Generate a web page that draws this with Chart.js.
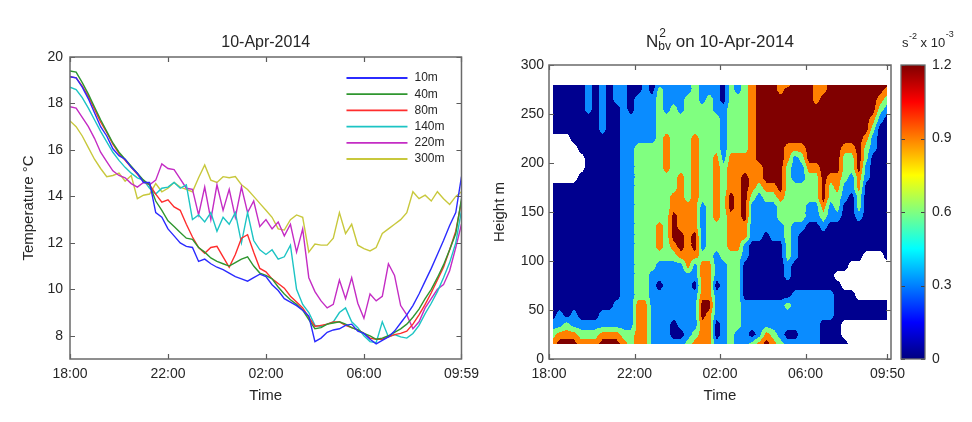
<!DOCTYPE html>
<html>
<head>
<meta charset="utf-8">
<script src="https://cdn.jsdelivr.net/npm/chart.js@4.4.1/dist/chart.umd.min.js"></script>
<style>
  html, body { margin: 0; padding: 0; background: #fff; }
  #wrap { position: relative; width: 972px; height: 422px; }
  canvas { position: absolute; top: 0; }
  #tempChart { left: 0; }
  #n2Chart { left: 486px; }
</style>
</head>
<body>
<div id="wrap">
  <canvas id="tempChart" width="486" height="422"></canvas>
  <canvas id="n2Chart" width="486" height="422"></canvas>
</div>
<script>
// ---------- left panel : temperature at six depths ----------
const tempTimes = [
  '18:00','18:15','18:30','18:45','19:00','19:15','19:30','19:45',
  '20:00','20:15','20:30','20:45','21:00','21:15','21:30','21:45',
  '22:00','22:15','22:30','22:45','23:00','23:15','23:30','23:45',
  '00:00','00:15','00:30','00:45','01:00','01:15','01:30','01:45',
  '02:00','02:15','02:30','02:45','03:00','03:15','03:30','03:45',
  '04:00','04:15','04:30','04:45','05:00','05:15','05:30','05:45',
  '06:00','06:15','06:30','06:45','07:00','07:15','07:30','07:45',
  '08:00','08:15','08:30','08:45','09:00','09:15','09:30','09:45','09:59'
];
const depthLabels = ['10m', '40m', '80m', '140m', '220m', '300m'];
const temp10m = [19.15,19.1,18.7,18.2,17.6,17.0,16.6,16.05,15.75,15.6,
  15.25,15.0,14.6,14.6,13.3,13.1,12.6,12.3,12.0,11.85,
  11.8,11.2,11.3,11.1,10.95,10.85,10.7,10.55,10.45,10.35,
  10.5,10.65,10.55,10.2,9.95,9.6,9.45,9.3,9.1,8.85,
  7.75,7.9,8.15,8.25,8.3,8.45,8.5,8.2,8.1,7.85,
  7.65,7.8,7.95,8.2,8.55,8.9,9.3,9.8,10.35,10.9,
  11.5,12.1,12.75,13.3,14.85];
const temp40m = [19.4,19.35,18.9,18.4,17.85,17.3,16.8,16.3,15.9,15.6,
  15.3,15.0,14.7,14.5,13.8,13.4,12.95,12.7,12.45,12.2,
  12.15,11.8,11.6,11.35,11.2,11.1,11.0,11.15,11.3,11.4,
  11.0,10.7,10.6,10.45,10.1,9.8,9.55,9.35,9.1,8.7,
  8.3,8.35,8.5,8.55,8.6,8.5,8.35,8.25,8.1,8.0,
  7.85,7.9,8.0,8.15,8.3,8.5,8.8,9.15,9.6,10.0,
  10.5,11.05,11.7,12.4,13.9];
const temp80m = [19.15,19.1,18.75,18.3,17.75,17.2,16.75,16.25,15.85,15.55,
  15.25,14.95,14.65,14.5,14.1,13.75,13.85,13.55,13.4,12.8,
  12.25,11.8,11.55,11.8,11.85,11.4,10.95,11.5,12.2,12.35,
  11.6,10.9,10.75,10.45,10.25,10.05,9.7,9.45,9.2,8.8,
  8.4,8.45,8.5,8.6,8.6,8.45,8.35,8.25,8.1,7.9,
  7.85,7.85,7.95,8.05,8.1,8.2,8.5,8.9,9.35,9.85,
  10.4,10.95,11.7,12.5,13.8];
const temp140m = [18.7,18.6,18.25,17.8,17.3,16.8,16.35,15.9,15.55,15.25,
  15.0,14.8,14.7,14.35,14.1,14.35,14.4,14.6,14.35,14.5,
  13.0,13.2,12.9,13.3,12.5,13.1,12.8,13.3,12.0,13.3,
  12.1,11.7,11.5,11.7,11.3,11.4,11.9,10.0,9.35,9.0,
  8.45,8.4,8.5,8.6,9.0,9.2,8.6,8.35,8.0,7.75,
  7.7,8.6,7.95,8.05,7.95,7.9,8.1,8.45,8.95,9.4,
  9.9,10.5,11.15,12.0,13.4];
const temp220m = [17.86,17.8,17.4,17.0,16.5,15.9,15.5,15.1,14.9,14.8,
  14.55,14.4,14.6,14.5,14.7,15.4,15.2,15.15,14.75,14.35,
  14.3,13.2,14.4,13.0,14.5,13.4,14.3,13.1,14.4,13.3,
  13.8,12.7,13.0,12.6,12.9,12.3,12.8,11.6,12.6,10.5,
  9.9,9.5,9.2,9.35,10.4,9.6,10.5,9.4,8.75,9.8,
  9.5,9.7,11.1,10.6,9.3,8.9,8.3,8.6,9.2,9.6,
  10.0,10.2,10.8,11.8,12.8];
const temp300m = [17.25,17.0,16.6,16.1,15.6,15.2,14.85,14.9,15.0,14.65,
  14.9,13.9,14.05,14.1,14.55,14.2,14.35,14.6,14.4,14.3,
  14.2,14.8,15.35,14.7,14.6,14.85,14.8,14.85,14.5,14.3,
  14.0,13.7,13.4,13.1,12.6,12.55,13.0,13.2,13.1,11.6,
  11.95,11.9,11.9,12.2,13.3,12.4,12.8,11.9,11.75,11.65,
  11.8,12.4,12.6,12.8,13.0,13.3,14.2,13.9,14.05,13.8,
  14.2,13.9,13.65,14.0,14.2];
const tempTicks = [8, 10, 12, 14, 16, 18, 20];
const tempTickTimes = ['18:00', '22:00', '02:00', '06:00', '09:59'];

// ---------- right panel : N2 contour (band index per node, '.' = no data) ----------
const n2Times = [
  '18:10','18:30','18:50','19:10','19:30','19:50','20:10','20:30','20:50','21:10','21:30','21:50',
  '22:10','22:30','22:50','23:10','23:30','23:50','00:10','00:30','00:50','01:10','01:30','01:50',
  '02:10','02:30','02:50','03:10','03:30','03:50','04:10','04:30','04:50','05:10','05:30','05:50',
  '06:10','06:30','06:50','07:10','07:30','07:50','08:10','08:30','08:50','09:10','09:30','09:50'
];
const n2Heights = [15,25,35,45,55,65,75,85,95,105,115,125,135,145,155,165,175,185,195,205,215,225,235,245,255,265,275,280];
// one string per time, characters run from the lowest height to the highest
const n2Bands = [
  "32100000000000000.....000000",
  "43110000000000000.....000000",
  "43200000000000000.....000000",
  "43110000000000000....0000000",
  "321000000000000000..00000000",
  "3210000000000000000000001111",
  "3210000000000000000000000000",
  "4311000000000000000000111111",
  "4311000000000000000000000000",
  "4311100000000000000000000111",
  "3211111111111111111111111111",
  "2211111111111111111111110000",
  "3333322222222222222221111100",
  "3333322222222222222221111111",
  "1111111122222222222221111100",
  "1111110112333222222222222221",
  "1111111112222222223333221111",
  "1001111112344433222222222111",
  "1011111113443333332222221111",
  "2111111133333332222222222211",
  "3211110113443333333333222222",
  "3334433332111112222222222111",
  "3333433332222222222222222211",
  "1001110111222333333322221111",
  "1111111112222222222111111000",
  "2222222222333344333322222222",
  "1122222222333333333322222211",
  "1111100001133444443322222222",
  "2011100000011112333333333333",
  "3111100000011111233444444444",
  "4311100000001112344444444444",
  "3211100000011112344444444444",
  "2111100000011223444444444433",
  "1011200112222222222334444443",
  "1011110001111222211134444444",
  "1111110000001222211234444444",
  "1111110000000112223444444444",
  "1111110000000112223444444333",
  "0001110000001234444444444433",
  "0001110000000112234444444444",
  "0000000.00000122334444444444",
  "0..000..00000001122234444444",
  "...000...0000000112234444444",
  "...00....0000122334444444444",
  "...00.....000000011223444444",
  "...00.....000000000011234444",
  "...00.....000000000000012344",
  "...00....0000000000000001234"
];
const n2ScaleTicks = [0, 0.3, 0.6, 0.9, 1.2];
const n2TickTimes = ['18:00', '22:00', '02:00', '06:00', '09:50'];
const heightTicks = [0, 50, 100, 150, 200, 250, 300];

// ---------- helpers ----------
const FONT = "'Liberation Sans', Arial, sans-serif";
const INK = '#262626';
Chart.defaults.font.family = FONT;
Chart.defaults.color = INK;

const lineColors = ['#2b2bff', '#2f962f', '#ff2d2d', '#1cc4c4', '#c42cc4', '#c8c83c'];
const n2BandColors = ['#00008f', '#0a8cff', '#80ff80', '#ff8000', '#800000'];

const toMin = s => { const [h, m] = s.split(':').map(Number); return (h * 60 + m - 1080 + 1440) % 1440; };
const fmtMin = v => { const t = (Math.round(v) + 1080) % 1440; return String(Math.floor(t / 60)).padStart(2, '0') + ':' + String(t % 60).padStart(2, '0'); };
const fixTicks = list => axis => { axis.ticks = list.map(v => ({ value: v })); };

function jet(t) {
  const c = v => Math.round(255 * Math.max(0, Math.min(1, v)));
  return 'rgb(' + c(1.5 - Math.abs(4 * t - 3)) + ',' + c(1.5 - Math.abs(4 * t - 2)) + ',' + c(1.5 - Math.abs(4 * t - 1)) + ')';
}

// box round the plot with inward ticks on all four sides
const frameTicks = {
  id: 'frameTicks',
  afterDatasetsDraw(chart) {
    const { ctx, chartArea: a } = chart;
    const xs = chart.scales.x, ys = chart.scales.y;
    ctx.save();
    ctx.strokeStyle = '#5a5a5a';
    ctx.lineWidth = 1.2;
    ctx.beginPath();
    xs.ticks.forEach(t => {
      const p = Math.round(xs.getPixelForValue(t.value)) + 0.5;
      ctx.moveTo(p, a.bottom); ctx.lineTo(p, a.bottom - 5);
      ctx.moveTo(p, a.top); ctx.lineTo(p, a.top + 5);
    });
    ys.ticks.forEach(t => {
      const p = Math.round(ys.getPixelForValue(t.value)) + 0.5;
      ctx.moveTo(a.left, p); ctx.lineTo(a.left + 5, p);
      ctx.moveTo(a.right, p); ctx.lineTo(a.right - 5, p);
    });
    ctx.stroke();
    ctx.strokeStyle = '#6a6a6a';
    ctx.lineWidth = 1.5;
    ctx.strokeRect(a.left, a.top, a.right - a.left, a.bottom - a.top);
    ctx.restore();
  }
};

const depthLegend = {
  id: 'depthLegend',
  afterDatasetsDraw(chart) {
    const { ctx, chartArea: a } = chart;
    ctx.save();
    ctx.font = '12px ' + FONT;
    ctx.textBaseline = 'middle';
    chart.data.datasets.forEach((ds, i) => {
      const y = a.top + 21 + i * 16.2;
      ctx.strokeStyle = ds.borderColor;
      ctx.lineWidth = 1.8;
      ctx.beginPath(); ctx.moveTo(a.right - 115, y); ctx.lineTo(a.right - 54, y); ctx.stroke();
      ctx.fillStyle = INK;
      ctx.fillText(ds.label, a.right - 47, y);
    });
    ctx.restore();
  }
};

const tempTitle = {
  id: 'tempTitle',
  afterDraw(chart) {
    const { ctx, chartArea: a } = chart;
    ctx.save();
    ctx.font = '16px ' + FONT;
    ctx.fillStyle = INK;
    ctx.textAlign = 'center';
    ctx.fillText('10-Apr-2014', (a.left + a.right) / 2, 47);
    ctx.restore();
  }
};

// filled contours: bilinear blend of the band indices, rounded to a band
const n2Minutes = n2Times.map(toMin);
function bandAt(t, h) {
  let i = 0; while (i < n2Minutes.length - 2 && n2Minutes[i + 1] <= t) i++;
  let j = 0; while (j < n2Heights.length - 2 && n2Heights[j + 1] <= h) j++;
  const fx = Math.min(1, Math.max(0, (t - n2Minutes[i]) / (n2Minutes[i + 1] - n2Minutes[i])));
  const fy = Math.min(1, Math.max(0, (h - n2Heights[j]) / (n2Heights[j + 1] - n2Heights[j])));
  const pts = [[i, j, (1 - fx) * (1 - fy)], [i + 1, j, fx * (1 - fy)], [i, j + 1, (1 - fx) * fy], [i + 1, j + 1, fx * fy]];
  let sum = 0, wIn = 0, wOut = 0;
  for (const [a, b, w] of pts) {
    const col = n2Bands[a];
    const ch = col[b] ?? col[col.length - 1];
    if (ch === '.') wOut += w; else { sum += w * Number(ch); wIn += w; }
  }
  if (wOut >= 0.5 || wIn === 0) return -1;
  return Math.max(0, Math.min(4, Math.round(sum / wIn)));
}

const contourFill = {
  id: 'contourFill',
  beforeDatasetsDraw(chart) {
    const { ctx } = chart;
    const x = chart.scales.x, y = chart.scales.y;
    const left = Math.round(x.getPixelForValue(n2Minutes[0]));
    const right = Math.round(x.getPixelForValue(n2Minutes[n2Minutes.length - 1]));
    const top = Math.round(y.getPixelForValue(n2Heights[n2Heights.length - 1]));
    const bottom = Math.round(y.getPixelForValue(n2Heights[0]));
    ctx.save();
    for (let py = top; py < bottom; py++) {
      const h = y.getValueForPixel(py + 0.5);
      let start = left, cur = null;
      for (let px = left; px <= right; px++) {
        const b = px < right ? bandAt(x.getValueForPixel(px + 0.5), h) : -2;
        if (b !== cur) {
          if (cur !== null && cur >= 0) {
            ctx.fillStyle = n2BandColors[cur];
            ctx.fillRect(start, py, px - start, 1);
          }
          cur = b; start = px;
        }
      }
    }
    ctx.restore();
  }
};

const colorBar = {
  id: 'colorBar',
  afterDraw(chart) {
    const { ctx } = chart;
    const s = chart.scales.cb;
    const x0 = s.left + 10, w = 24, top = s.top, bot = s.bottom;
    const g = ctx.createLinearGradient(0, bot, 0, top);
    for (let i = 0; i <= 32; i++) g.addColorStop(i / 32, jet(i / 32));
    ctx.save();
    ctx.fillStyle = g;
    ctx.fillRect(x0, top, w, bot - top);
    ctx.strokeStyle = '#404040';
    ctx.lineWidth = 1;
    ctx.beginPath();
    s.ticks.forEach(t => {
      const p = Math.round(s.getPixelForValue(t.value)) + 0.5;
      ctx.moveTo(x0, p); ctx.lineTo(x0 + 4, p);
      ctx.moveTo(x0 + w, p); ctx.lineTo(x0 + w - 4, p);
    });
    ctx.stroke();
    ctx.strokeStyle = '#6a6a6a';
    ctx.lineWidth = 1.3;
    ctx.strokeRect(x0, top, w, bot - top);
    // unit label  s^-2 x 10^-3
    ctx.fillStyle = INK;
    let x = x0 + 1;
    ctx.font = '13px ' + FONT; ctx.fillText('s', x, 47); x += ctx.measureText('s').width;
    ctx.font = '9px ' + FONT; ctx.fillText('-2', x + 0.5, 39); x += ctx.measureText('-2').width + 0.5;
    ctx.font = '13px ' + FONT; ctx.fillText(' x 10', x, 47); x += ctx.measureText(' x 10').width;
    ctx.font = '9px ' + FONT; ctx.fillText('-3', x + 0.5, 37);
    ctx.restore();
  }
};

const n2Title = {
  id: 'n2Title',
  afterDraw(chart) {
    const { ctx, chartArea: a } = chart;
    const big = '17px ' + FONT, small = '12px ' + FONT;
    ctx.save();
    ctx.fillStyle = INK;
    ctx.font = big;
    const wN = ctx.measureText('N').width, wRest = ctx.measureText(' on 10-Apr-2014').width;
    ctx.font = small;
    const wScript = Math.max(ctx.measureText('2').width, ctx.measureText('bv').width);
    let x = (a.left + a.right) / 2 - (wN + wScript + wRest) / 2;
    ctx.font = big; ctx.fillText('N', x, 47); x += wN;
    ctx.font = small; ctx.fillText('2', x + 1, 37); ctx.fillText('bv', x, 50); x += wScript;
    ctx.font = big; ctx.fillText(' on 10-Apr-2014', x, 47);
    ctx.restore();
  }
};

const tickFont = { size: 14 };
const titleFont = { size: 15 };

// ---------- left chart ----------
const tempSeries = [temp10m, temp40m, temp80m, temp140m, temp220m, temp300m];
new Chart(document.getElementById('tempChart'), {
  type: 'line',
  data: {
    datasets: tempSeries.map((vals, k) => ({
      label: depthLabels[k],
      data: tempTimes.map((t, i) => ({ x: toMin(t), y: vals[i] })),
      borderColor: lineColors[k],
      borderWidth: 1.4,
      pointRadius: 0,
      tension: 0
    }))
  },
  options: {
    responsive: false,
    animation: false,
    layout: { padding: { top: 57, right: 21, left: 0, bottom: 0 } },
    plugins: { legend: { display: false }, tooltip: { enabled: false } },
    scales: {
      x: {
        type: 'linear', min: 0, max: toMin('09:59'),
        afterFit: s => { s.height = 63; },
        afterBuildTicks: fixTicks(tempTickTimes.map(toMin)),
        ticks: { callback: v => fmtMin(v), padding: 7, maxRotation: 0, autoSkip: false, font: tickFont, color: INK },
        grid: { display: false, drawTicks: false },
        border: { display: false },
        title: { display: true, text: 'Time', font: titleFont, color: INK, padding: { top: 0, bottom: 17 } }
      },
      y: {
        type: 'linear', min: 7, max: 20,
        afterFit: s => { s.width = 70; },
        afterBuildTicks: fixTicks(tempTicks),
        ticks: { padding: 7, font: tickFont, color: INK },
        grid: { display: false, drawTicks: false },
        border: { display: false },
        title: { display: true, text: 'Temperature °C', font: titleFont, color: INK, padding: { top: 20, bottom: 0 } }
      }
    }
  },
  plugins: [frameTicks, depthLegend, tempTitle]
});

// ---------- right chart ----------
new Chart(document.getElementById('n2Chart'), {
  type: 'scatter',
  data: { datasets: [] },
  options: {
    responsive: false,
    animation: false,
    layout: { padding: { top: 65, right: 0, left: 0, bottom: 0 } },
    plugins: { legend: { display: false }, tooltip: { enabled: false } },
    scales: {
      x: {
        type: 'linear', min: 0, max: 960,
        afterFit: s => { s.height = 63; },
        afterBuildTicks: fixTicks(n2TickTimes.map(toMin)),
        ticks: { callback: v => fmtMin(v), padding: 7, maxRotation: 0, autoSkip: false, font: tickFont, color: INK },
        grid: { display: false, drawTicks: false },
        border: { display: false },
        title: { display: true, text: 'Time', font: titleFont, color: INK, padding: { top: 0, bottom: 17 } }
      },
      y: {
        type: 'linear', position: 'left', min: 0, max: 300,
        afterFit: s => { s.width = 63; },
        afterBuildTicks: fixTicks(heightTicks),
        ticks: { padding: 5, font: tickFont, color: INK },
        grid: { display: false, drawTicks: false },
        border: { display: false },
        title: { display: true, text: 'Height m', font: titleFont, color: INK, padding: { top: 5, bottom: 0 } }
      },
      cb: {
        type: 'linear', position: 'right', min: 0, max: 1.2,
        afterFit: s => { s.width = 81; },
        afterBuildTicks: fixTicks(n2ScaleTicks),
        ticks: { callback: v => (v === 0 ? '0' : v.toFixed(1)), padding: 41, font: tickFont, color: INK },
        grid: { display: false, drawTicks: false },
        border: { display: false }
      }
    }
  },
  plugins: [contourFill, frameTicks, colorBar, n2Title]
});
</script>
</body>
</html>
